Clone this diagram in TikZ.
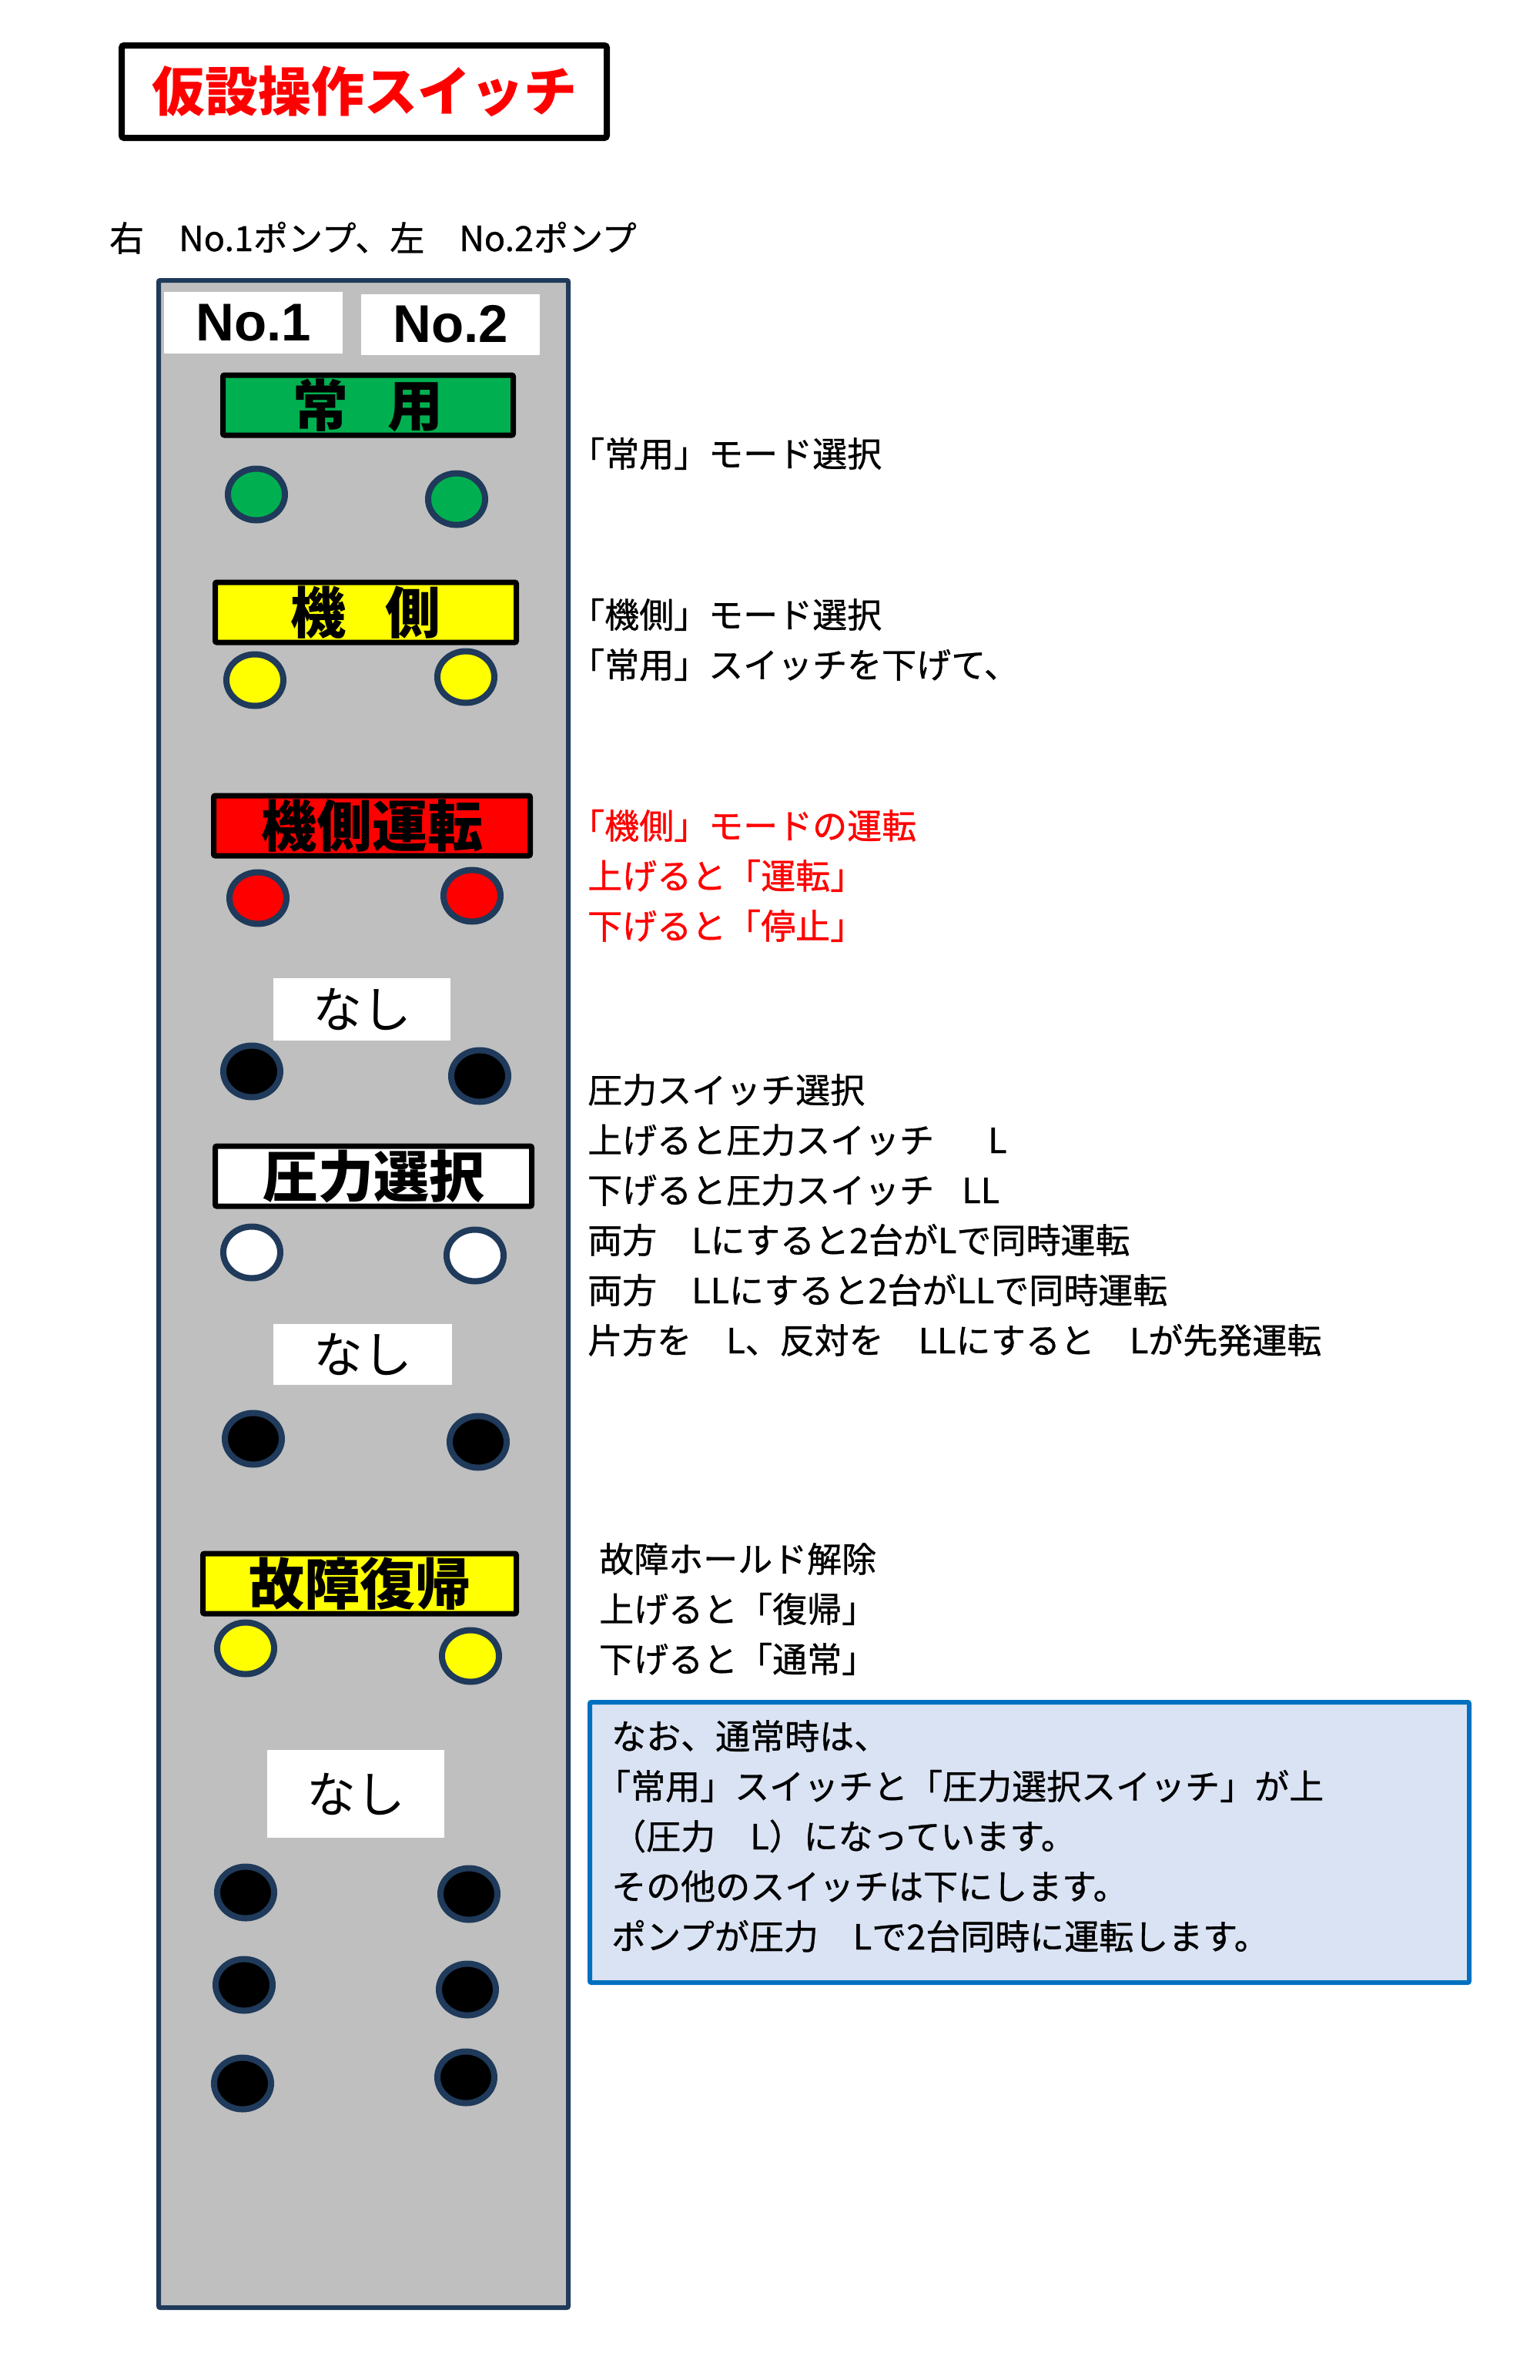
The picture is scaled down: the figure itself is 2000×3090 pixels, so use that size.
\documentclass[tikz,border=0pt]{standalone}
\usepackage{fontspec}
\setmainfont{Noto Sans CJK JP}
\newfontfamily\jpm{Noto Sans CJK JP}[FakeBold=0.8]
\newfontfamily\latb{Liberation Sans}
\usetikzlibrary{shapes.geometric}
\definecolor{navy}{HTML}{1F3A5A}
\definecolor{panelgray}{HTML}{BFBFBF}
\definecolor{lampgreen}{HTML}{00B050}
\definecolor{lampyellow}{HTML}{FFFF00}
\definecolor{lampred}{HTML}{FF0000}
\definecolor{notefill}{HTML}{DAE3F3}
\definecolor{noteborder}{HTML}{0070C0}
\definecolor{txtred}{HTML}{FF0000}
\tikzset{
  titlebox/.style={draw=black, line width=8pt, fill=white, rounded corners=3pt,
    minimum width=630pt, minimum height=120pt, inner sep=0pt, text=txtred,
    font=\bfseries\fontsize{69pt}{69pt}\selectfont},
  panelbox/.style={draw=navy, fill=panelgray, line width=6pt, rounded corners=2pt,
    minimum width=532pt, minimum height=2632pt, inner sep=0pt},
  numbox/.style={fill=white, minimum width=232pt, minimum height=80pt, inner sep=0pt,
    font={\latb\bfseries\fontsize{69pt}{69pt}\selectfont}},
  modebox/.style={draw=black, line width=7pt, inner sep=0pt, minimum height=78pt,
    rounded corners=2pt, font=\bfseries\fontsize{72pt}{72pt}\selectfont},
  nashibox/.style={fill=white, inner sep=0pt, font=\fontsize{64pt}{64pt}\selectfont},
  lamp/.style={ellipse, draw=navy, line width=8pt, minimum width=74pt,
    minimum height=67pt, inner sep=0pt},
  txt/.style={anchor=base west, inner sep=0pt, font=\jpm\fontsize{45pt}{45pt}\selectfont},
  notebox/.style={draw=noteborder, fill=notefill, line width=6pt, rounded corners=2pt,
    minimum width=1142pt, minimum height=364pt, inner sep=0pt}
}
\begin{document}
\begin{tikzpicture}[x=1pt,y=-1pt]
\fill[white] (0,0) rectangle (2000,3090);
\useasboundingbox (0,0) rectangle (2000,3090);

% title
\node[titlebox] (title) at (473,119) {仮設操作スイッチ};
\node[txt] (sub) at (142,326) {右　No.1ポンプ、左　No.2ポンプ};

% panel
\node[panelbox] (panel) at (472,1680) {};
\node[numbox] (no1) at (329,419) {No.1};
\node[numbox, minimum height=79pt] (no2) at (585,421) {No.2};

\node[modebox, fill=lampgreen, minimum width=377pt] (jouyou) at (478,526) {常\hspace{52pt}用};
\node[lamp, fill=lampgreen] (g1) at (333,642) {};
\node[lamp, fill=lampgreen] (g2) at (593,648) {};

\node[modebox, fill=lampyellow, minimum width=391pt] (kisoku) at (475,795) {機\hspace{52pt}側};
\node[lamp, fill=lampyellow] (y1) at (331,883) {};
\node[lamp, fill=lampyellow] (y2) at (605,879) {};

\node[modebox, fill=lampred, minimum width=411pt] (kisokuun) at (483,1072) {機側運転};
\node[lamp, fill=lampred] (r1) at (335,1166) {};
\node[lamp, fill=lampred] (r2) at (613,1163) {};

\node[nashibox, minimum width=230pt, minimum height=81pt] (nashi1) at (470,1310) {なし};
\node[lamp, fill=black] (b1) at (327,1391) {};
\node[lamp, fill=black] (b2) at (623,1397) {};

\node[modebox, fill=white, minimum width=411pt] (atsu) at (485,1527) {圧力選択};
\node[lamp, fill=white] (w1) at (327,1626) {};
\node[lamp, fill=white] (w2) at (617,1630) {};

\node[nashibox, minimum width=232pt, minimum height=79pt] (nashi2) at (471,1758) {なし};
\node[lamp, fill=black] (b3) at (329,1868) {};
\node[lamp, fill=black] (b4) at (621,1872) {};

\node[modebox, fill=lampyellow, minimum width=407pt] (koshou) at (467,2056) {故障復帰};
\node[lamp, fill=lampyellow] (y3) at (319,2140) {};
\node[lamp, fill=lampyellow] (y4) at (611,2150) {};

\node[nashibox, minimum width=230pt, minimum height=114pt] (nashi3) at (462,2329) {なし};
\node[lamp, fill=black] (b5) at (319,2457) {};
\node[lamp, fill=black] (b6) at (609,2459) {};
\node[lamp, fill=black] (b7) at (317,2577) {};
\node[lamp, fill=black] (b8) at (607,2583) {};
\node[lamp, fill=black] (b9) at (315,2705) {};
\node[lamp, fill=black] (b10) at (605,2697) {};

% explanations
\node[txt] (t1) at (740,606) {「常用」モード選択};
\node[txt] (t2) at (740,815) {「機側」モード選択};
\node[txt] (t3) at (740,880) {「常用」スイッチを下げて、};
\node[txt, text=txtred] (t4) at (740,1089) {「機側」モードの運転};
\node[txt, text=txtred] (t5) at (763,1154) {上げると「運転」};
\node[txt, text=txtred] (t6) at (763,1219) {下げると「停止」};
\node[txt] (t7) at (763,1432) {圧力スイッチ選択};
\node[txt] (t8) at (763,1497) {上げると圧力スイッチ\hspace{70pt}L};
\node[txt] (t9) at (763,1562) {下げると圧力スイッチ\hspace{36pt}LL};
\node[txt] (t10) at (763,1627) {両方　Lにすると2台がLで同時運転};
\node[txt] (t11) at (763,1692) {両方　LLにすると2台がLLで同時運転};
\node[txt] (t12) at (763,1757) {片方を　L、反対を　LLにすると　Lが先発運転};
\node[txt] (t13) at (778,2041) {故障ホールド解除};
\node[txt] (t14) at (778,2106) {上げると「復帰」};
\node[txt] (t15) at (778,2171) {下げると「通常」};

% note box
\node[notebox] (note) at (1337,2392) {};
\node[txt] (n1) at (794,2271) {なお、通常時は、};
\node[txt] (n2) at (774,2336) {「常用」スイッチと「圧力選択スイッチ」が上};
\node[txt] (n3) at (794,2401) {（圧力　L）になっています。};
\node[txt] (n4) at (794,2466) {その他のスイッチは下にします。};
\node[txt] (n5) at (794,2531) {ポンプが圧力　Lで2台同時に運転します。};
\end{tikzpicture}
\end{document}
